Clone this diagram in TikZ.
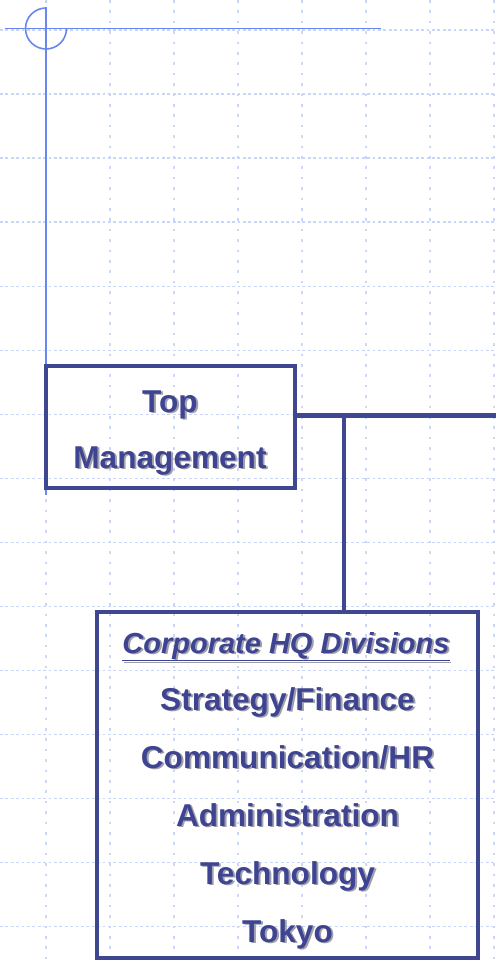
\documentclass[tikz,border=0pt]{standalone}
\usepackage{fontspec}
\setmainfont{Liberation Sans}
\usetikzlibrary{calc}
\definecolor{navy}{RGB}{64,71,145}
\definecolor{txtc}{RGB}{62,68,145}
\definecolor{shdc}{RGB}{160,160,172}
\definecolor{thinblue}{RGB}{105,135,240}
\definecolor{gridc}{RGB}{202,213,250}
\newcommand{\shd}[1]{\rlap{\kern1.9pt\raisebox{-1.9pt}{\color{shdc}#1}}#1}
\tikzset{
  hgrid/.style={draw=gridc, line width=1.4pt, dash pattern=on 2.8pt off 2.6pt},
  vgrid/.style={draw=gridc, line width=1.4pt, dash pattern=on 2.6pt off 7.8pt},
  thin line/.style={draw=thinblue, line width=1.6pt},
  orgbox/.style={draw=navy, line width=4.5pt, inner sep=0pt, fill=none},
  conn/.style={draw=navy, line width=4.5pt},
  lbl/.style={text=txtc, anchor=base, inner sep=0pt, font=\bfseries\fontsize{31.6}{36}\selectfont},
  lblit/.style={text=txtc, anchor=base, inner sep=0pt, font=\bfseries\itshape\fontsize{29}{34}\selectfont}
}
\begin{document}
\begin{tikzpicture}[x=1pt,y=-1pt]
\useasboundingbox (0,0) rectangle (496,961);
\fill[white] (0,0) rectangle (496,961);
% grid
\foreach \k in {0,...,14} \draw[hgrid] (0,{30+64.05*\k}) -- (496,{30+64.05*\k});
\foreach \k in {0,...,7} \draw[vgrid] ({46+64*\k},0) -- ({46+64*\k},961);
% thin decorative lines
\draw[thin line] (5,28.5) -- (381,28.5);
\draw[thin line] (46,7) -- (46,495);
\draw[thin line] (46,8) arc[start angle=-90, end angle=-360, radius=20.5];
% boxes
\node[orgbox, minimum width=249pt, minimum height=122pt] (top) at (170.5,427) {};
\node[orgbox, minimum width=381pt, minimum height=346pt] (hq) at (287.5,785) {};
% connectors
\coordinate (rend) at (496,415.5);
\coordinate (jn) at (344,415.5);
\draw[conn] (top.east |- rend) -- (rend);
\draw[conn] (jn) -- (jn |- hq.north);
% labels
\node[lbl] (t1) at (170,412) {\shd{Top}};
\node[lbl] (t2) at (170,468) {\shd{Management}};
\node[lblit] (h0) at (286,653) {\shd{\underline{Corporate HQ Divisions}}};
\node[lbl] (h1) at (287.5,710) {\shd{Strategy/Finance}};
\node[lbl] (h2) at (287.5,768) {\shd{Communication/HR}};
\node[lbl] (h3) at (287.5,826) {\shd{Administration}};
\node[lbl] (h4) at (287.5,884) {\shd{Technology}};
\node[lbl] (h5) at (287.5,942) {\shd{Tokyo}};
\end{tikzpicture}
\end{document}
